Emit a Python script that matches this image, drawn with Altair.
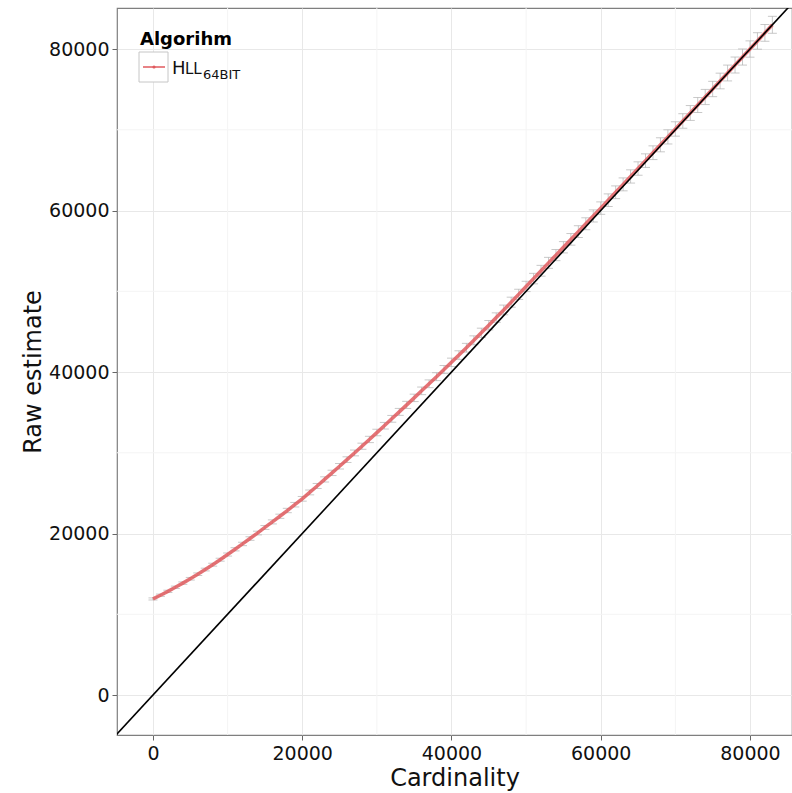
import altair as alt
import pandas as pd

cardinality = [0, 1000, 2000, 3000, 4000, 5000, 6000, 7000, 8000, 9000,
               10000, 11000, 12000, 13000, 14000, 15000, 16000, 17000, 18000, 19000,
               20000, 21000, 22000, 23000, 24000, 25000, 26000, 27000, 28000, 29000,
               30000, 31000, 32000, 33000, 34000, 35000, 36000, 37000, 38000, 39000,
               40000, 41000, 42000, 43000, 44000, 45000, 46000, 47000, 48000, 49000,
               50000, 51000, 52000, 53000, 54000, 55000, 56000, 57000, 58000, 59000,
               60000, 61000, 62000, 63000, 64000, 65000, 66000, 67000, 68000, 69000,
               70000, 71000, 72000, 73000, 74000, 75000, 76000, 77000, 78000, 79000,
               80000, 81000, 82000, 83000]

raw_estimate = [11900, 12360, 12840, 13340, 13860, 14400, 14960, 15540, 16140, 16760,
                17400, 18050, 18710, 19380, 20060, 20750, 21440, 22140, 22850, 23570,
                24300, 25090, 25890, 26700, 27510, 28330, 29150, 29980, 30810, 31650,
                32500, 33350, 34205, 35065, 35930, 36800, 37670, 38545, 39425, 40310,
                41200, 42100, 43010, 43930, 44860, 45800, 46740, 47690, 48650, 49620,
                50600, 51570, 52540, 53520, 54480, 55450, 56430, 57390, 58360, 59330,
                60300, 61280, 62260, 63240, 64220, 65200, 66180, 67160, 68140, 69120,
                70100, 71090, 72080, 73070, 74060, 75050, 76040, 77030, 78020, 79010,
                80000, 81000, 82000, 83000]

error_half = [130, 140, 140, 150, 150, 160, 160, 170, 180, 180,
              190, 200, 210, 220, 230, 240, 250, 260, 270, 280,
              290, 300, 310, 320, 330, 340, 350, 360, 380, 390,
              400, 410, 420, 430, 440, 460, 470, 480, 490, 500,
              520, 530, 540, 550, 570, 580, 590, 600, 620, 630,
              640, 650, 670, 680, 690, 700, 720, 730, 740, 750,
              770, 780, 790, 800, 820, 830, 840, 850, 870, 880,
              890, 900, 920, 930, 940, 950, 970, 980, 990, 1000,
              1010, 1020, 1040, 1050]

legend_title = "Algorihm"
legend_label_main = "H"
legend_label_caps = "LL"
legend_label_sub = "64BIT"
x_ticks = [0, 20000, 40000, 60000, 80000]
y_ticks = [0, 20000, 40000, 60000, 80000]
minor_grid = [10000, 30000, 50000, 70000]
identity_line = [-6000, 90000]

RED = "#e05a5e"
FONT = "DejaVu Sans"

df = pd.DataFrame({
    "n": cardinality,
    "est": raw_estimate,
    "lo": [e - h for e, h in zip(raw_estimate, error_half)],
    "hi": [e + h for e, h in zip(raw_estimate, error_half)],
})
grid_df = pd.DataFrame({"g": minor_grid})
diag_df = pd.DataFrame({"v": identity_line})

xscale = alt.Scale(domain=[-4820, 85630], nice=False, zero=False)
yscale = alt.Scale(domain=[-4950, 85080], nice=False, zero=False)

xaxis = alt.Axis(values=x_ticks, format="d", title="Cardinality", grid=True,
                 gridColor="#e8e8e8", gridWidth=1, domain=False,
                 tickColor="#666666", tickSize=5, labelFont=FONT, labelFontSize=19,
                 labelColor="#111111", labelPadding=4, titleFont=FONT, titleFontSize=24,
                 titleFontWeight="normal", titleColor="#111111", titleY=50,
                 titleBaseline="alphabetic")
yaxis = alt.Axis(values=y_ticks, format="d", title="Raw estimate", grid=True,
                 gridColor="#e8e8e8", gridWidth=1, domain=False,
                 tickColor="#666666", tickSize=5, labelFont=FONT, labelFontSize=19,
                 labelColor="#111111", labelPadding=3, titleFont=FONT, titleFontSize=24,
                 titleFontWeight="normal", titleColor="#111111", titleX=-77,
                 titleBaseline="alphabetic")

X = lambda f: alt.X(f, scale=xscale, axis=xaxis)
Y = lambda f: alt.Y(f, scale=yscale, axis=yaxis)

minor_x = alt.Chart(grid_df).mark_rule(color="#f4f4f4", strokeWidth=1).encode(x=X("g:Q"))
minor_y = alt.Chart(grid_df).mark_rule(color="#f4f4f4", strokeWidth=1).encode(y=Y("g:Q"))

base = alt.Chart(df)
bars = base.mark_rule(color="#c8c8c8", strokeWidth=1).encode(
    x=X("n:Q"), y=Y("lo:Q"), y2="hi:Q")
caps_lo = base.mark_tick(color="#b0b0b0", orient="horizontal", size=9, thickness=1).encode(
    x=X("n:Q"), y=Y("lo:Q"))
caps_hi = base.mark_tick(color="#b0b0b0", orient="horizontal", size=9, thickness=1).encode(
    x=X("n:Q"), y=Y("hi:Q"))

line = base.mark_line(strokeWidth=3.5, opacity=0.85, color=RED).encode(
    x=X("n:Q"), y=Y("est:Q"))

diag = alt.Chart(diag_df).mark_line(color="#000000", strokeWidth=1.6, clip=True).encode(
    x=X("v:Q"), y=Y("v:Q"))

# legend, drawn by hand (ggplot style with small caps / subscript label)
one = pd.DataFrame({"t": [legend_title]})
leg_title = alt.Chart(one).mark_text(font=FONT, fontSize=18, fontWeight="bold", align="left",
                                     baseline="alphabetic", color="#000000").encode(
    x=alt.value(23), y=alt.value(37), text="t:N")
leg_box = alt.Chart(one).mark_rect(fill="#ffffff", stroke="#c6c6c6", strokeWidth=1).encode(
    x=alt.value(22), x2=alt.value(51), y=alt.value(44), y2=alt.value(74))
leg_line = alt.Chart(one).mark_rule(color=RED, strokeWidth=1.5).encode(
    x=alt.value(26), x2=alt.value(48), y=alt.value(59))
leg_pt = alt.Chart(one).mark_point(color=RED, filled=True, size=10, opacity=1).encode(
    x=alt.value(37), y=alt.value(59))
lab1 = alt.Chart(pd.DataFrame({"t": [legend_label_main]})).mark_text(
    font=FONT, fontSize=18, align="left", baseline="alphabetic", color="#111111").encode(
    x=alt.value(55), y=alt.value(66), text="t:N")
lab2 = alt.Chart(pd.DataFrame({"t": [legend_label_caps]})).mark_text(
    font=FONT, fontSize=15, align="left", baseline="alphabetic", color="#111111").encode(
    x=alt.value(68), y=alt.value(66), text="t:N")
lab3 = alt.Chart(pd.DataFrame({"t": [legend_label_sub]})).mark_text(
    font=FONT, fontSize=13, align="left", baseline="alphabetic", color="#111111").encode(
    x=alt.value(86), y=alt.value(71), text="t:N")

chart = alt.layer(minor_x, minor_y, bars, caps_lo, caps_hi, line, diag,
                  leg_box, leg_line, leg_pt, leg_title, lab1, lab2, lab3).properties(
    width=675, height=727,
    padding={"left": 117, "top": 8, "right": 0, "bottom": 58},
    autosize="none",
    background="#ffffff",
).configure_view(stroke="#7f7f7f", strokeWidth=1.2)

chart.save("out.html", embed_options={"renderer": "svg", "actions": False})
